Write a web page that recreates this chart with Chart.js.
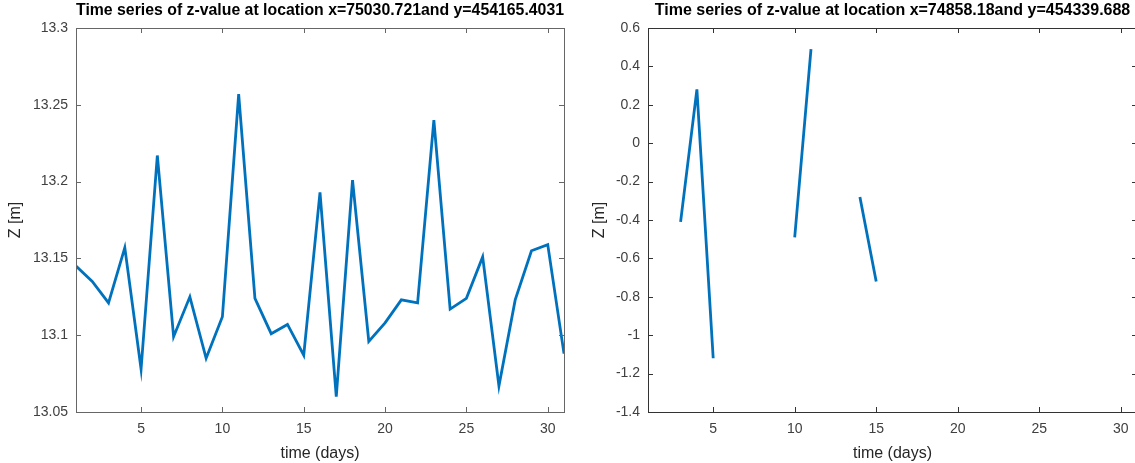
<!DOCTYPE html>
<html>
<head>
<meta charset="utf-8">
<script src="https://cdn.jsdelivr.net/npm/chart.js@4.4.1/dist/chart.umd.min.js"></script>
<style>
  body { margin: 0; background: #fff; overflow: hidden; }
  .box { position: absolute; top: 0; height: 463px; }
</style>
</head>
<body>
<div class="box" style="left:0;width:567px"><canvas id="left"></canvas></div>
<div class="box" style="left:567px;width:572px"><canvas id="right"></canvas></div>
<script>
// time axis (days)
const days = [1,2,3,4,5,6,7,8,9,10,11,12,13,14,15,16,17,18,19,20,21,22,23,24,25,26,27,28,29,30,31];

// z-values at x=75030.721, y=454165.4031
const zLeft = [13.145,13.135,13.121,13.157,13.078,13.217,13.099,13.125,13.085,13.112,
               13.257,13.124,13.101,13.107,13.087,13.193,13.060,13.201,13.096,13.108,
               13.123,13.121,13.240,13.117,13.124,13.151,13.067,13.123,13.155,13.159,13.088];

// z-values at x=74858.18, y=454339.688 (missing days are null)
const zRight = [null,null,-0.41,0.28,-1.12,null,null,null,null,-0.49,
                0.49,null,null,-0.28,-0.72,null,null,null,null,null,
                null,null,null,null,null,null,null,null,null,null,null];

const xTicks = [5,10,15,20,25,30];
const yTicksLeft = [13.05,13.1,13.15,13.2,13.25,13.3];
const yLabelsLeft = ['13.05','13.1','13.15','13.2','13.25','13.3'];
const yTicksRight = [-1.4,-1.2,-1,-0.8,-0.6,-0.4,-0.2,0,0.2,0.4,0.6];
const yLabelsRight = ['-1.4','-1.2','-1','-0.8','-0.6','-0.4','-0.2','0','0.2','0.4','0.6'];

Chart.defaults.font.family = "'Liberation Sans', Arial, sans-serif";
Chart.defaults.color = '#404040';

// box around the axes with inward tick marks, matlab style
const matlabBox = {
  id: 'matlabBox',
  afterDatasetsDraw(chart, args, opts) {
    const { ctx, chartArea: a, scales: { x, y } } = chart;
    ctx.save();
    ctx.strokeStyle = opts.color;
    ctx.lineWidth = 1;
    ctx.strokeRect(Math.round(a.left) + 0.5, Math.round(a.top) + 0.5,
                   Math.round(a.right - a.left), Math.round(a.bottom - a.top));
    ctx.beginPath();
    x.ticks.forEach(t => {
      const px = Math.round(x.getPixelForValue(t.value)) + 0.5;
      ctx.moveTo(px, a.bottom); ctx.lineTo(px, a.bottom - 5);
      ctx.moveTo(px, a.top); ctx.lineTo(px, a.top + 5);
    });
    y.ticks.forEach(t => {
      const py = Math.round(y.getPixelForValue(t.value)) + 0.5;
      ctx.moveTo(a.left, py); ctx.lineTo(a.left + 5, py);
      ctx.moveTo(a.right, py); ctx.lineTo(a.right - 5, py);
    });
    ctx.stroke();
    ctx.restore();
  }
};

function makeChart(id, title, values, yMin, yMax, yTicks, yLabels, yWidth, yTitlePad, padRight, frameColor) {
  return new Chart(document.getElementById(id), {
    type: 'line',
    data: {
      datasets: [{
        data: days.map((d, i) => ({ x: d, y: values[i] })),
        borderColor: '#0072BD',
        borderWidth: 2.8,
        pointRadius: 0,
        tension: 0,
        spanGaps: false
      }]
    },
    options: {
      responsive: true,
      maintainAspectRatio: false,
      animation: false,
      layout: { padding: { left: 0, right: padRight, top: 0, bottom: 0 } },
      plugins: {
        legend: { display: false },
        tooltip: { enabled: false },
        title: {
          display: true,
          fullSize: false,
          text: title,
          color: '#000',
          font: { size: 16, weight: 'bold' },
          padding: { top: 0.5, bottom: 8.3 }
        },
        matlabBox: { color: frameColor }
      },
      scales: {
        x: {
          type: 'linear',
          min: 1, max: 31,
          grid: { display: false, drawTicks: false },
          border: { display: false },
          afterBuildTicks: s => { s.ticks = xTicks.map(v => ({ value: v })); },
          afterFit: s => { s.height = 51; },
          ticks: { font: { size: 14 }, padding: 9, maxRotation: 0, callback: v => String(v) },
          title: { display: true, text: 'time (days)', font: { size: 16 }, color: '#262626', padding: { top: 1.5, bottom: 0 } }
        },
        y: {
          min: yMin, max: yMax,
          grid: { display: false, drawTicks: false },
          border: { display: false },
          afterBuildTicks: s => { s.ticks = yTicks.map(v => ({ value: v })); },
          afterFit: s => { s.width = yWidth; },
          ticks: { font: { size: 14 }, padding: 8, callback: (v, i) => yLabels[i] },
          title: { display: true, text: 'Z [m]', font: { size: 16 }, color: '#262626', padding: { top: yTitlePad, bottom: 0 } }
        }
      }
    },
    plugins: [matlabBox]
  });
}

makeChart('left', 'Time series of z-value at location x=75030.721and y=454165.4031',
  zLeft, 13.05, 13.3, yTicksLeft, yLabelsLeft, 76, 5.5, 3, '#666');
makeChart('right', 'Time series of z-value at location x=74858.18and y=454339.688',
  zRight, -1.4, 0.6, yTicksRight, yLabelsRight, 81, 23, 2, '#333');
</script>
</body>
</html>
